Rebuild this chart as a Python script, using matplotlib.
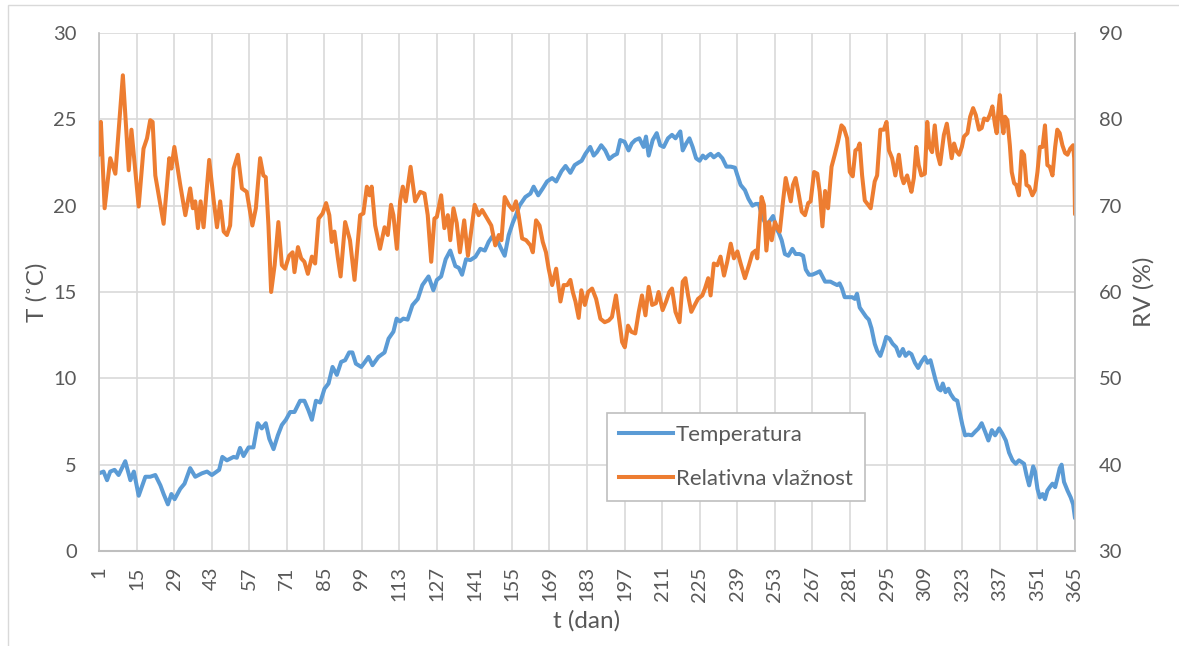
import matplotlib
matplotlib.use("Agg")
import matplotlib.pyplot as plt
from matplotlib.lines import Line2D
from matplotlib.patches import Rectangle

# ---------------- data ----------------
temp_day = [1, 2.7, 4, 5.2, 6.8, 8.3, 10.8, 12.7, 14, 15.8,
            18.3, 20.1, 22, 23.9, 25.1, 26.7, 28, 29.2, 31.3, 32.9,
            35, 36.9, 39.4, 41.3, 43.1, 45.8, 47, 48.7, 51.2, 52.4,
            53.6, 54.9, 56.8, 58.6, 60.2, 61.7, 63.2, 64.5, 66.1, 67.7,
            69.2, 70.7, 72.3, 73.9, 76, 77.6, 79.1, 80.4, 81.9, 83.5,
            85.1, 86.6, 88.1, 89.7, 91.3, 92.8, 94.3, 95.5, 96.8, 98.8,
            100.2, 101.5, 103, 105.2, 107.5, 109, 110.8, 112, 113.2, 114.5,
            116.1, 117.9, 119.9, 121.6, 123.9, 125.7, 127, 128.6, 130.3, 132,
            133.9, 135.2, 136.4, 137.9, 139.5, 141.4, 143.2, 144.9, 146.3, 147.6,
            149.5, 151, 152.3, 153.8, 155.3, 156.5, 157.8, 160, 161.9, 163.1,
            164.8, 166.5, 168.1, 170, 171.5, 173.5, 175, 176.8, 178.4, 179.9,
            181, 182.4, 184.2, 185.5, 186.7, 188.3, 189.8, 191.3, 192.9, 194.2,
            195.4, 197, 198.5, 199.7, 201, 202.5, 204.1, 205, 206, 207.5,
            209, 210.3, 211.6, 213.2, 214.7, 216, 217.8, 218.7, 220, 221.2,
            222.4, 223.7, 225, 226.2, 227.2, 228.2, 229.1, 230.3, 232, 233.5,
            235, 236.6, 238.2, 239, 240.3, 241.9, 243.2, 244.7, 245.9, 247.1,
            248.4, 249.9, 251.1, 252.4, 253.6, 254.6, 255.6, 256.8, 258.1, 259.6,
            260.8, 262.3, 263.6, 264.6, 265.8, 267, 268.5, 269.8, 270.8, 271.8,
            272.5, 273.8, 275, 276.3, 277.2, 278.1, 279.1, 280.6, 281.9, 282.9,
            283.7, 284.7, 285.8, 287.1, 288.1, 289.1, 290.3, 291.2, 292.4, 293.7,
            294.6, 295.8, 297, 298.3, 299.5, 300.8, 301.8, 303, 304, 305.3,
            306.5, 307.7, 309, 310, 311.1, 312, 313, 314, 314.9, 315.7,
            316.7, 317.8, 318.6, 319.9, 321.1, 322, 323, 324, 325.2, 326.5,
            327.7, 329, 330.2, 331.5, 332.7, 334, 335.2, 336.7, 337.9, 339.2,
            340.4, 341.7, 342.9, 344.1, 345.1, 346, 346.9, 347.9, 348.6, 349.4,
            350.1, 351, 351.9, 352.9, 353.8, 354.7, 355.6, 356.6, 357.6, 358.4,
            359.3, 360, 360.9, 362.2, 363.4, 364.3, 365]
temp_c = [4.5, 4.6, 4.1, 4.6, 4.7, 4.4, 5.2, 4.1, 4.6, 3.2,
          4.3, 4.3, 4.4, 3.8, 3.3, 2.7, 3.3, 3.0, 3.6, 3.9,
          4.8, 4.3, 4.5, 4.6, 4.4, 4.7, 5.45, 5.25, 5.45, 5.4,
          5.97, 5.5, 6.0, 6.0, 7.4, 7.1, 7.4, 6.5, 5.9, 6.7,
          7.3, 7.6, 8.05, 8.05, 8.7, 8.7, 8.15, 7.6, 8.7, 8.6,
          9.4, 9.7, 10.66, 10.2, 10.95, 11.05, 11.5, 11.5, 10.85, 10.66,
          10.95, 11.24, 10.76, 11.24, 11.5, 12.3, 12.7, 13.46, 13.3, 13.46,
          13.4, 14.24, 14.6, 15.4, 15.9, 15.1, 15.7, 15.9, 16.9, 17.4,
          16.5, 16.4, 16.0, 16.9, 16.85, 17.04, 17.5, 17.4, 17.9, 18.2,
          18.0, 17.5, 17.1, 18.3, 19.0, 19.45, 20.0, 20.5, 20.7, 21.1,
          20.6, 21.0, 21.4, 21.6, 21.4, 22.0, 22.3, 21.9, 22.35, 22.5,
          22.6, 23.0, 23.4, 22.9, 23.1, 23.5, 23.2, 22.7, 22.9, 23.0,
          23.8, 23.7, 23.2, 23.6, 23.8, 23.9, 23.4, 24.0, 22.9, 23.8,
          24.2, 23.5, 23.4, 23.9, 24.1, 23.9, 24.3, 23.2, 23.6, 23.9,
          23.4, 22.74, 22.6, 22.9, 22.74, 22.9, 23.0, 22.8, 23.0, 22.74,
          22.26, 22.26, 22.2, 21.8, 21.2, 20.9, 20.4, 20.0, 20.1, 20.1,
          19.3, 18.9, 19.1, 19.4, 18.7, 18.4, 18.0, 17.2, 17.1, 17.5,
          17.2, 17.2, 17.1, 16.3, 16.0, 16.0, 16.1, 16.2, 15.9, 15.6,
          15.6, 15.6, 15.5, 15.4, 15.5, 15.2, 14.7, 14.7, 14.7, 14.6,
          14.9, 14.1, 13.85, 13.56, 13.4, 12.9, 12.0, 11.6, 11.3, 11.9,
          12.4, 12.3, 12.0, 11.8, 11.3, 11.7, 11.3, 11.5, 11.4, 10.9,
          10.6, 10.95, 11.24, 10.9, 11.05, 10.5, 9.9, 9.4, 9.3, 9.7,
          9.2, 9.4, 9.1, 8.8, 8.7, 8.05, 7.3, 6.7, 6.74, 6.7,
          6.9, 7.1, 7.4, 6.9, 6.4, 7.0, 6.7, 7.1, 6.8, 6.4,
          5.7, 5.25, 5.05, 5.25, 5.15, 5.05, 4.4, 3.8, 4.3, 4.9,
          4.6, 3.6, 3.1, 3.3, 3.0, 3.5, 3.7, 3.9, 3.7, 4.2,
          4.8, 5.0, 4.0, 3.5, 3.1, 2.7, 1.9]

rh_day = [1, 1.7, 3.1, 5.2, 7.1, 9.9, 12.1, 13.1, 15.8, 17.6,
          18.9, 20.1, 21, 22, 23.5, 25.1, 27.2, 28, 29.1, 31.3,
          33.2, 35, 36, 36.9, 37.9, 38.9, 40, 42.1, 43.7, 45,
          46.2, 47.5, 48.7, 49.9, 51.2, 52.8, 54.3, 56.1, 58.2, 59.5,
          61.1, 62.3, 63.2, 64.2, 65.2, 66.5, 67.9, 69.2, 70.4, 71.9,
          73.2, 73.9, 75.2, 76.4, 77.6, 78.9, 80.4, 81.6, 82.9, 84.4,
          85.7, 86.9, 87.8, 88.8, 90.1, 91.1, 92.8, 94.6, 96.3, 98.4,
          99.6, 100.9, 101.9, 102.7, 104, 105.8, 107.5, 108.7, 109.9, 110.8,
          112.1, 113.3, 114.3, 115.4, 117.2, 118.9, 120.8, 122.4, 123.6, 124.9,
          126.1, 127, 128.6, 129.8, 131.1, 132, 133.2, 134.4, 135.6, 137.2,
          138.6, 141.1, 142.6, 143.9, 145.4, 147.3, 148.8, 150.1, 151.1, 152.3,
          153.8, 155.3, 156.5, 157.5, 158.8, 160.3, 161.9, 162.8, 164, 165.3,
          166.5, 167.7, 168.7, 170, 171.5, 173.1, 174.3, 175.6, 176.8, 177.7,
          178.7, 179.9, 180.9, 182.2, 183.4, 184.9, 186.4, 188, 189.6, 191.1,
          192.3, 193.8, 195.1, 196.1, 197.1, 198.3, 199.5, 201, 202.3, 203.5,
          204.8, 206, 207.3, 208.7, 209.7, 211.2, 212.5, 213.7, 214.7, 216,
          217.5, 218.7, 219.7, 220.7, 221.9, 223.2, 224.4, 226, 227, 228.2,
          229.1, 230.3, 231.6, 232.8, 234.1, 235.3, 236.6, 237.8, 239.1, 240.3,
          241.9, 243.4, 244.7, 245.9, 246.5, 247.4, 248.1, 249, 249.9, 250.9,
          251.9, 253.1, 254, 254.9, 256.1, 257.1, 258.1, 259, 259.8, 260.8,
          261.8, 263.1, 264.3, 265.5, 266.4, 267.7, 268.9, 269.8, 270.8, 271.8,
          272.9, 274.2, 275.4, 276.6, 277.9, 278.8, 280, 281, 282.1, 283.1,
          284, 284.7, 285.6, 286.6, 287.8, 288.8, 290.3, 291.2, 292.4, 293.7,
          294.7, 295.6, 296.8, 298, 299.3, 300.3, 301.1, 302.4, 303.3, 304,
          304.9, 305.8, 306.7, 307.7, 309, 309.9, 310.7, 311.7, 312.7, 313.7,
          314.7, 316.1, 317.2, 318, 319, 319.9, 320.8, 321.8, 322.8, 323.6,
          324.9, 325.9, 327, 328, 329.2, 330.2, 331.1, 332.3, 333.2, 334.2,
          335.2, 335.8, 336.4, 337, 337.7, 338.3, 338.9, 339.8, 340.7, 341.4,
          342.3, 343.1, 344.1, 345.1, 346, 346.9, 347.9, 349.1, 350.1, 351,
          351.9, 352.9, 353.8, 354.7, 355.6, 356.6, 357.6, 358.4, 359.3, 360.3,
          361.3, 362.2, 363.2, 364.3, 364.7, 365]
rh_pct = [75.9, 79.7, 69.7, 75.5, 73.7, 85.1, 74.1, 78.8, 69.9, 76.6,
          77.8, 79.9, 79.7, 73.5, 70.8, 67.9, 75.5, 74.3, 76.8, 72.4,
          68.9, 72.0, 69.7, 70.5, 67.4, 70.5, 67.5, 75.3, 70.8, 67.5,
          70.5, 67.0, 66.6, 67.7, 74.3, 75.9, 72.0, 71.6, 67.7, 69.7,
          75.5, 73.5, 73.3, 67.7, 60.0, 63.1, 68.1, 63.1, 62.7, 64.2,
          64.6, 62.3, 65.2, 63.9, 63.5, 62.1, 64.1, 63.3, 68.5, 69.1,
          70.3, 68.9, 65.8, 67.0, 63.9, 61.8, 68.1, 66.0, 61.4, 68.9,
          69.1, 72.2, 71.2, 72.2, 67.7, 65.0, 67.5, 66.6, 70.1, 68.9,
          65.0, 70.5, 72.2, 70.5, 74.5, 70.5, 71.6, 71.4, 68.9, 63.5,
          68.5, 68.7, 71.2, 67.4, 68.9, 66.0, 69.7, 68.0, 64.6, 68.3,
          64.2, 70.1, 68.9, 69.5, 68.7, 67.7, 65.4, 66.6, 66.0, 71.0,
          70.1, 69.5, 70.5, 68.9, 66.2, 66.0, 65.4, 64.6, 68.3, 67.7,
          65.8, 64.6, 62.7, 60.8, 62.7, 58.9, 60.8, 60.8, 61.4, 60.0,
          58.9, 57.0, 60.2, 58.5, 60.0, 60.4, 59.2, 56.9, 56.5, 56.7,
          57.1, 59.6, 56.5, 54.2, 53.6, 56.1, 55.4, 55.2, 57.7, 59.6,
          57.3, 60.6, 58.5, 58.7, 60.0, 57.9, 58.9, 60.0, 60.4, 57.7,
          56.5, 61.2, 61.6, 59.6, 57.7, 58.5, 59.2, 59.6, 60.4, 61.6,
          59.6, 63.3, 63.1, 64.1, 61.9, 63.5, 65.6, 63.9, 64.7, 63.3,
          61.6, 63.1, 64.5, 64.8, 63.9, 68.1, 71.0, 70.1, 64.8, 68.1,
          66.0, 68.1, 67.4, 67.0, 70.5, 73.2, 71.8, 70.5, 72.4, 73.2,
          71.6, 69.3, 68.9, 70.3, 70.5, 73.9, 73.7, 71.6, 67.6, 71.7,
          69.7, 74.5, 75.9, 77.4, 79.3, 79.0, 77.8, 73.9, 73.4, 76.4,
          76.6, 77.2, 73.5, 70.6, 70.1, 69.7, 72.8, 73.5, 78.8, 78.8,
          79.7, 76.4, 75.5, 73.5, 75.9, 73.4, 72.6, 73.5, 72.4, 71.6,
          73.2, 76.8, 74.7, 73.5, 73.7, 79.7, 76.8, 76.2, 79.3, 76.0,
          74.8, 78.2, 79.5, 77.8, 75.5, 77.2, 76.3, 75.9, 76.8, 78.0,
          78.4, 80.3, 81.3, 80.5, 78.8, 79.0, 80.1, 79.9, 80.5, 81.5,
          79.3, 78.4, 80.9, 82.8, 79.9, 78.4, 80.3, 79.9, 77.0, 73.9,
          72.6, 72.4, 71.2, 76.3, 75.9, 72.4, 72.2, 71.2, 71.8, 73.9,
          76.8, 76.8, 79.3, 74.7, 74.5, 73.5, 76.8, 78.8, 78.4, 77.0,
          76.1, 75.9, 76.6, 77.0, 75.5, 69.0]

x_ticks = list(range(1, 366, 14))
temp_ticks = [0, 5, 10, 15, 20, 25, 30]
rh_ticks = [30, 40, 50, 60, 70, 80, 90]

assert len(temp_day) == len(temp_c)
assert len(rh_day) == len(rh_pct)

# ---------------- style ----------------
FONT = ["Lato", "DejaVu Sans"]
plt.rcParams["font.family"] = FONT
TXT = "#595959"
GRID = "#D9D9D9"
AXC = "#BFBFBF"
BLUE = "#5B9BD5"
ORANGE = "#ED7D31"
LW = 2.9

fig = plt.figure(figsize=(11.79, 6.46), dpi=100)
W, H = 1179, 646
L, R, T, B = 99, 1075, 33, 551
ax = fig.add_axes([L / W, 1 - B / H, (R - L) / W, (B - T) / H])
ax2 = ax.twinx()

# chart border (Excel chart area)
fig.patches.append(Rectangle((8 / W, -0.1), 1.2, 1 - 5 / H + 0.1,
                             transform=fig.transFigure, fill=False,
                             edgecolor="#D9D9D9", linewidth=1.0))

ax.set_xlim(1, 365)
ax.set_ylim(0, 30)
ax2.set_ylim(30, 90)
ax.set_xticks(x_ticks)
ax.set_yticks(temp_ticks)
ax2.set_yticks(rh_ticks)

ax.grid(True, color=GRID, linewidth=1.2)
ax.set_axisbelow(True)
for sp in ["top", "right"]:
    ax.spines[sp].set_visible(False)
ax.spines["left"].set_color(AXC)
ax.spines["bottom"].set_color(AXC)
ax.spines["left"].set_linewidth(1.2)
ax.spines["bottom"].set_linewidth(1.5)
for sp in ["top", "left", "bottom"]:
    ax2.spines[sp].set_visible(False)
ax2.spines["right"].set_color(AXC)
ax2.spines["right"].set_linewidth(1.2)

TICK_FS = 14.5
ax.tick_params(axis="both", length=0, colors=TXT, labelsize=TICK_FS)
ax.tick_params(axis="x", rotation=90, pad=11)
ax.tick_params(axis="y", pad=16)
ax2.tick_params(axis="y", length=0, colors=TXT, labelsize=TICK_FS, pad=17)
for lab in ax.get_xticklabels():
    lab.set_verticalalignment("top")

ax.plot(temp_day, temp_c, color=BLUE, linewidth=LW,
        solid_joinstyle="round", solid_capstyle="round")
ax2.plot(rh_day, rh_pct, color=ORANGE, linewidth=LW,
         solid_joinstyle="round", solid_capstyle="round")

ax.set_xlabel("t (dan)", color=TXT, fontsize=17.5, labelpad=6)
ax.set_ylabel("T (˚C)", color=TXT, fontsize=17.5, labelpad=4)
ax2.set_ylabel("RV (%)", color=TXT, fontsize=17.5, labelpad=8)

handles = [Line2D([], [], color=BLUE, linewidth=LW),
           Line2D([], [], color=ORANGE, linewidth=LW)]
leg = ax2.legend(handles, ["Temperatura", "Relativna vlažnost"],
                 loc="upper left", bbox_to_anchor=((607 - L) / (R - L), (B - 413) / (B - T)),
                 fontsize=16, frameon=True, fancybox=False, framealpha=1,
                 edgecolor=AXC, handlelength=2.4, handletextpad=0.15,
                 labelspacing=1.05, borderpad=0.55, borderaxespad=0)
leg.get_frame().set_linewidth(1.2)
for t in leg.get_texts():
    t.set_color(TXT)

fig.savefig("out.png", dpi=100)
